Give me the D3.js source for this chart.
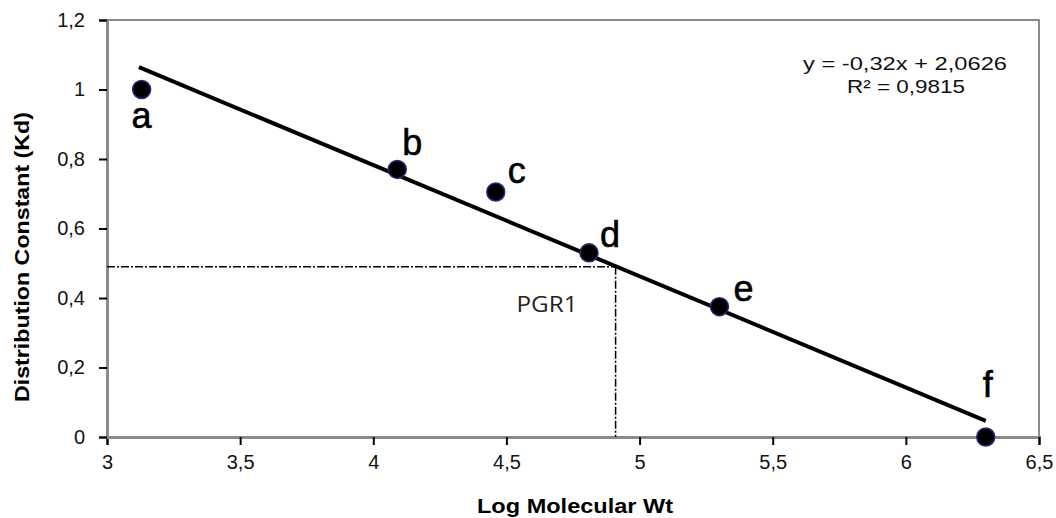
<!DOCTYPE html>
<html>
<head>
<meta charset="utf-8">
<script src="https://cdn.jsdelivr.net/npm/d3@7"></script>
<style>
    body { margin: 0; background: #fff; }
    svg { display: block; font-family: "Liberation Sans", Arial, sans-serif; }
</style>
</head>
<body>
<svg width="1056" height="518"></svg>
<script>
// sample points
const labels = ["a", "b", "c", "d", "e", "f"];
const logMw = [3.13, 4.09, 4.46, 4.81, 5.30, 6.30];
const kd = [1.0, 0.77, 0.705, 0.53, 0.375, 0.0];

// trend line y = -0,32x + 2,0626 drawn between these x values
const slope = -0.32;
const intercept = 2.0626;
const trendX = [3.12, 6.30];

// PGR1 read-off
const pgr1 = { x: 4.91, y: 0.49 };

const xTicks = [3, 3.5, 4, 4.5, 5, 5.5, 6, 6.5];
const yTicks = [0, 0.2, 0.4, 0.6, 0.8, 1, 1.2];

const svg = d3.select("svg");
const width = +svg.attr("width");
const height = +svg.attr("height");
const margin = { top: 20, right: 17, bottom: 81, left: 107 };

const x = d3.scaleLinear().domain([3, 6.5]).range([margin.left, width - margin.right]);
const y = d3.scaleLinear().domain([0, 1.2]).range([height - margin.bottom, margin.top]);

const comma = d => String(d).replace(".", ",");

// frame
svg.append("rect")
    .attr("x", x(3))
    .attr("y", y(1.2))
    .attr("width", x(6.5) - x(3))
    .attr("height", y(0) - y(1.2))
    .attr("fill", "none")
    .attr("stroke", "#8a8a8a")
    .attr("stroke-width", 2);

// axes
const xAxis = svg.append("g")
    .attr("transform", `translate(0,${y(0)})`)
    .call(d3.axisBottom(x).tickValues(xTicks).tickFormat(comma).tickSize(8).tickPadding(10));
const yAxis = svg.append("g")
    .attr("transform", `translate(${x(3)},0)`)
    .call(d3.axisLeft(y).tickValues(yTicks).tickFormat(comma).tickSize(8).tickPadding(14));

[xAxis, yAxis].forEach(a => {
    a.select(".domain").attr("stroke", "#8a8a8a").attr("stroke-width", 3);
    a.selectAll(".tick line").attr("stroke", "#000").attr("stroke-width", 2);
    a.selectAll(".tick text")
        .attr("fill", "#111")
        .style("font-size", "20px")
        .style("font-family", "'Liberation Sans', Arial, sans-serif");
});

// axis titles
svg.append("text")
    .attr("x", 575)
    .attr("y", 513)
    .attr("text-anchor", "middle")
    .attr("textLength", 196)
    .attr("lengthAdjust", "spacingAndGlyphs")
    .style("font-size", "21px")
    .style("font-weight", "bold")
    .text("Log Molecular Wt");

svg.append("text")
    .attr("transform", "translate(29,257) rotate(-90)")
    .attr("text-anchor", "middle")
    .attr("textLength", 290)
    .attr("lengthAdjust", "spacingAndGlyphs")
    .style("font-size", "21px")
    .style("font-weight", "bold")
    .text("Distribution Constant (Kd)");

// dashed read-off lines
svg.append("line")
    .attr("x1", x(3)).attr("y1", y(pgr1.y))
    .attr("x2", x(pgr1.x)).attr("y2", y(pgr1.y))
    .attr("stroke", "#000").attr("stroke-width", 1.5)
    .attr("stroke-dasharray", "8,2,2,2");
svg.append("line")
    .attr("x1", x(pgr1.x)).attr("y1", y(pgr1.y))
    .attr("x2", x(pgr1.x)).attr("y2", y(0))
    .attr("stroke", "#000").attr("stroke-width", 1.5)
    .attr("stroke-dasharray", "8,2,2,2");

svg.append("text")
    .attr("x", 547)
    .attr("y", 312)
    .attr("text-anchor", "middle")
    .attr("textLength", 61)
    .attr("lengthAdjust", "spacingAndGlyphs")
    .style("font-size", "21px")
    .style("font-family", "'Open Sans', sans-serif")
    .attr("fill", "#222")
    .text("PGR1");

// trend line
svg.append("line")
    .attr("x1", x(trendX[0])).attr("y1", y(slope * trendX[0] + intercept))
    .attr("x2", x(trendX[1])).attr("y2", y(slope * trendX[1] + intercept))
    .attr("stroke", "#000")
    .attr("stroke-width", 4);

// points
const pts = logMw.map((v, i) => ({ x: v, y: kd[i], label: labels[i] }));
svg.append("g")
    .selectAll("circle")
    .data(pts)
    .join("circle")
    .attr("cx", d => x(d.x))
    .attr("cy", d => y(d.y))
    .attr("r", 9)
    .attr("fill", "#000")
    .attr("stroke", "#2a2a7a")
    .attr("stroke-width", 1.5);

// point labels
const labelOffset = {
    a: [0, 38], b: [15, -14], c: [21, -9], d: [21, -6], e: [24, -6], f: [2, -40]
};
svg.append("g")
    .selectAll("text")
    .data(pts)
    .join("text")
    .attr("x", d => x(d.x) + labelOffset[d.label][0])
    .attr("y", d => y(d.y) + labelOffset[d.label][1])
    .attr("text-anchor", "middle")
    .style("font-size", "36px")
    .attr("fill", "#000")
    .attr("stroke", "#000")
    .attr("stroke-width", 0.6)
    .text(d => d.label);

// equation
const eq = svg.append("text")
    .attr("text-anchor", "middle")
    .style("font-size", "19px")
    .attr("fill", "#111");
eq.append("tspan").attr("x", 905).attr("y", 70)
    .attr("textLength", 204).attr("lengthAdjust", "spacingAndGlyphs")
    .text("y = -0,32x + 2,0626");
eq.append("tspan").attr("x", 906).attr("y", 93)
    .attr("textLength", 118).attr("lengthAdjust", "spacingAndGlyphs")
    .text("R² = 0,9815");
</script>
</body>
</html>
